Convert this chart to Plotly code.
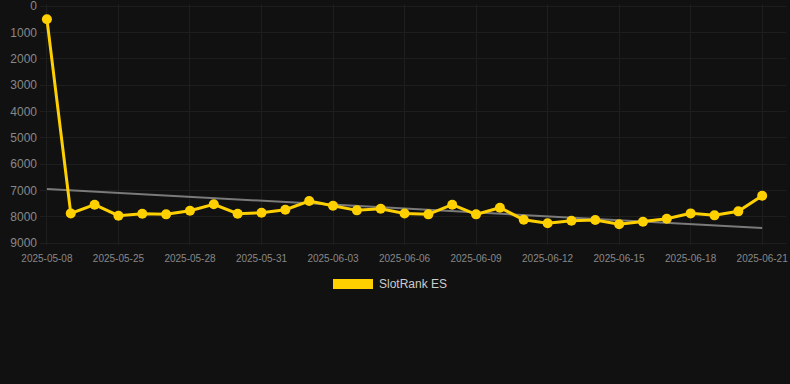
import plotly.graph_objects as go

dates = ["2025-05-08", "2025-05-23", "2025-05-24"] + [
    "2025-05-25", "2025-05-26", "2025-05-27", "2025-05-28", "2025-05-29", "2025-05-30",
    "2025-05-31", "2025-06-01", "2025-06-02", "2025-06-03", "2025-06-04", "2025-06-05",
    "2025-06-06", "2025-06-07", "2025-06-08", "2025-06-09", "2025-06-10", "2025-06-11",
    "2025-06-12", "2025-06-13", "2025-06-14", "2025-06-15", "2025-06-16", "2025-06-17",
    "2025-06-18", "2025-06-19", "2025-06-20", "2025-06-21"]
rank = [500, 7875, 7545, 7964, 7888, 7912, 7774, 7531, 7888, 7850, 7736, 7406,
        7584, 7760, 7698, 7880, 7912, 7545, 7912, 7660, 8116, 8253, 8154, 8128,
        8291, 8192, 8078, 7875, 7950, 7798, 7205]
trend_ends = [6950, 8430]
tick_dates = dates[::3]
y_ticks = [0, 1000, 2000, 3000, 4000, 5000, 6000, 7000, 8000, 9000]
series_name = "SlotRank ES"

W, H = 790, 384
L, R, T, B = 40, 4, 4, 139
pw, ph = W - L - R, H - T - B
# y range chosen so that 0 sits at y=6 and 9000 at y=243
y_top_px, y_bot_px = 6.0, 243.0
per_px = 9000 / (y_bot_px - y_top_px)
y_range = [9000 + (H - B - y_bot_px) * per_px, 0 - (y_top_px - T) * per_px]

def px_x(p):
    return (p - L) / pw

def px_y(p):
    return (H - B - p) / ph

fig = go.Figure()
fig.add_trace(go.Scatter(
    x=[dates[0], dates[-1]], y=trend_ends, mode="lines",
    line=dict(color="#7a7a7a", width=2), hoverinfo="skip", showlegend=False))
fig.add_trace(go.Scatter(
    x=dates, y=rank, mode="lines+markers", name=series_name,
    line=dict(color="#FFD000", width=3),
    marker=dict(color="#FFD000", size=10), showlegend=False))

fig.add_shape(type="rect", xref="paper", yref="paper",
              x0=px_x(333), x1=px_x(373), y0=px_y(289), y1=px_y(279),
              fillcolor="#FFD000", line=dict(width=0))
fig.add_annotation(xref="paper", yref="paper", x=px_x(377), y=px_y(284),
                   text=series_name, showarrow=False, xanchor="left", yanchor="middle",
                   font=dict(color="#cccccc", size=12, family="Liberation Sans, Arial, sans-serif"))

fig.update_layout(
    width=W, height=H,
    margin=dict(l=L, r=R, t=T, b=B, autoexpand=False),
    paper_bgcolor="#111111", plot_bgcolor="#111111",
    font=dict(family="Liberation Sans, Arial, sans-serif", color="#888888"),
    xaxis=dict(type="category", categoryorder="array", categoryarray=dates,
               range=[-0.29, 31.0], tickvals=tick_dates, ticktext=tick_dates,
               showgrid=True, gridcolor="#1e1e1e", gridwidth=1, zeroline=False,
               showline=False, ticks="", ticklabelstandoff=6, automargin=False,
               tickfont=dict(size=10, color="#888888")),
    yaxis=dict(range=y_range, tickvals=y_ticks, ticktext=[str(v) for v in y_ticks],
               showgrid=True, gridcolor="#1e1e1e", gridwidth=1, zeroline=False,
               showline=False, ticks="", ticklabeloverflow="allow", automargin=False,
               ticklabelstandoff=2,
               tickfont=dict(size=12, color="#888888")),
    showlegend=False,
)

fig.write_html("out.html")
